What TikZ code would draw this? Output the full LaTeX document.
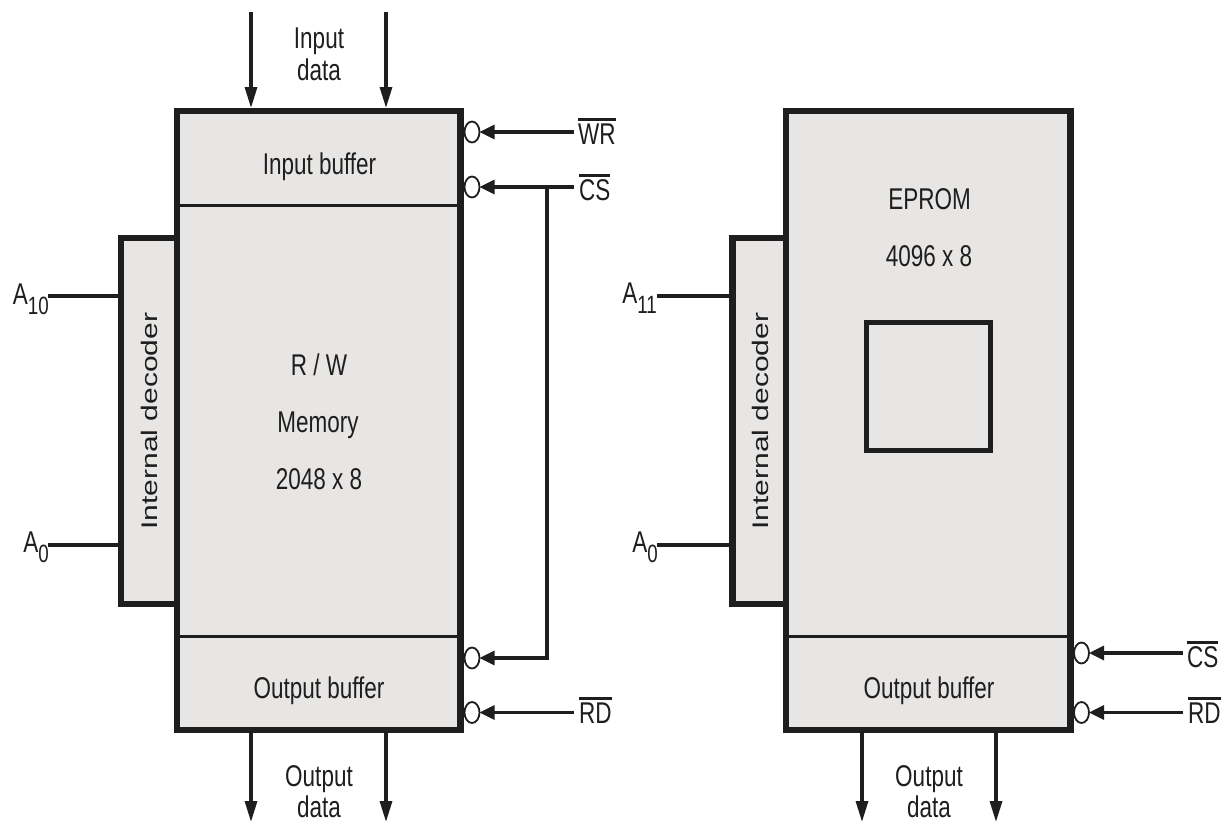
\documentclass[tikz,border=0pt]{standalone}
\usepackage{graphicx}
\usepackage{fontspec}
\setmainfont{Liberation Sans}[FakeStretch=0.75]
\newfontfamily\decfont{Liberation Sans}
\usetikzlibrary{arrows.meta,shapes.geometric}
\definecolor{ink}{HTML}{1E1E1E}
\definecolor{boxgray}{HTML}{E8E6E5}
\newcommand\ovl[1]{\leavevmode\vbox{\hrule height 3pt\kern2pt\hbox{#1}}}
\newcommand\sbs[1]{\raisebox{-10pt}{\fontsize{25}{25}\selectfont #1}}
\newcommand\dectext{\scalebox{0.75}[1]{\rotatebox{90}{\decfont\fontsize{30}{30}\selectfont Internal decoder}}}
\tikzset{
  block/.style={draw=ink, line width=6.5pt, fill=boxgray, inner sep=0pt, outer sep=0pt},
  divider/.style={draw=ink, line width=3pt},
  sig/.style={draw=ink, line width=3.2pt},
  htip/.style={-{Triangle[length=15pt,width=14pt]}},
  vtip/.style={-{Triangle[length=21pt,width=12pt]}},
  bubble/.style={ellipse, draw=ink, fill=white, line width=1.8pt, minimum width=15pt, minimum height=21pt, inner sep=0pt, outer sep=0pt},
  lbl/.style={font=\fontsize{30}{34}\selectfont, text=ink, inner sep=0pt},
}
\begin{document}
\begin{tikzpicture}[x=1pt,y=-1pt]
\useasboundingbox (0,0) rectangle (1224,823);
% ---------------- left: R/W memory ----------------
\node[block, minimum width=56pt, minimum height=366pt] (dec1) at (149,421) {};
\node[block, minimum width=283.5pt, minimum height=619pt] (ram) at (318.75,420.5) {};
\draw[divider] (177,205) -- (460.5,205);
\draw[divider] (177,636) -- (460.5,636);
\node[lbl, text=ink] (dec1t) at (149.5,421) {\dectext};
\node[lbl, anchor=base] (ib) at (319.5,174) {Input buffer};
\node[lbl, anchor=base] (rw) at (319,375) {R / W};
\node[lbl, anchor=base] (mem) at (318,432) {Memory};
\node[lbl, anchor=base] (sz1) at (319,489) {2048 x 8};
\node[lbl, anchor=base] (ob1) at (319,698) {Output buffer};
% input data
\coordinate (in1) at (251,12);
\coordinate (in2) at (386,12);
\draw[sig,vtip,shorten >=3pt] (in1) -- (in1 |- ram.north);
\draw[sig,vtip,shorten >=3pt] (in2) -- (in2 |- ram.north);
\node[lbl, anchor=base] (indata1) at (319,48) {Input};
\node[lbl, anchor=base] (indata2) at (319,80) {data};
% output data
\coordinate (out1) at (251,822);
\coordinate (out2) at (386,822);
\draw[sig,vtip] (out1 |- ram.south) -- (out1);
\draw[sig,vtip] (out2 |- ram.south) -- (out2);
\node[lbl, anchor=base] (outdata1) at (319,786) {Output};
\node[lbl, anchor=base] (outdata2) at (319,817) {data};
% address lines
\coordinate (a10) at (48,296);
\coordinate (a0) at (48,545);
\draw[sig] (a10) -- (a10 -| dec1.west);
\draw[sig] (a0) -- (a0 -| dec1.west);
\node[lbl, anchor=base east] (a10t) at (49,304) {A\sbs{10}};
\node[lbl, anchor=base east] (a0t) at (49,552) {A\sbs{0}};
% control signals
\node[bubble] (wrb) at (472,132) {};
\node[bubble] (csb) at (472,187) {};
\node[bubble] (csb2) at (472,658) {};
\node[bubble] (rdb) at (472,712.5) {};
\coordinate (wrin) at (574,132);
\coordinate (csin) at (574,187);
\coordinate (csj) at (547,187);
\coordinate (rdin) at (574,712.5);
\draw[sig,htip] (wrin) -- (wrb);
\draw[sig,htip] (csin) -- (csb);
\draw[sig,htip] (csj) |- (csb2);
\draw[sig,htip] (rdin) -- (rdb);
\node[lbl, anchor=base west] (wrt) at (578,144) {\ovl{WR}};
\node[lbl, anchor=base west] (cst) at (579,200) {\ovl{CS}};
\node[lbl, anchor=base west] (rdt) at (579,723) {\ovl{RD}};
% ---------------- right: EPROM ----------------
\node[block, minimum width=53.5pt, minimum height=366pt] (dec2) at (759.25,421) {};
\node[block, minimum width=284.5pt, minimum height=619pt] (eprom) at (928.25,420.5) {};
\draw[divider] (786,636) -- (1070.5,636);
\node[lbl] (dec2t) at (760,421) {\dectext};
\node[lbl, anchor=base] (ep) at (929.5,209) {EPROM};
\node[lbl, anchor=base] (sz2) at (929,266) {4096 x 8};
\node[draw=ink, line width=5pt, minimum width=124pt, minimum height=128pt, inner sep=0pt] (chip) at (928,386) {};
\node[lbl, anchor=base] (ob2) at (929,698) {Output buffer};
\coordinate (out3) at (862,822);
\coordinate (out4) at (996,822);
\draw[sig,vtip] (out3 |- eprom.south) -- (out3);
\draw[sig,vtip] (out4 |- eprom.south) -- (out4);
\node[lbl, anchor=base] (outdata3) at (929,786) {Output};
\node[lbl, anchor=base] (outdata4) at (929,817) {data};
\coordinate (a11) at (657,296);
\coordinate (a0b) at (657,545);
\draw[sig] (a11) -- (a11 -| dec2.west);
\draw[sig] (a0b) -- (a0b -| dec2.west);
\node[lbl, anchor=base east] (a11t) at (657,303) {A\sbs{11}};
\node[lbl, anchor=base east] (a0bt) at (658,552) {A\sbs{0}};
\node[bubble] (csb3) at (1081.5,653) {};
\node[bubble] (rdb2) at (1081.5,712.5) {};
\coordinate (csin2) at (1183,653);
\coordinate (rdin2) at (1183,712.5);
\draw[sig,htip] (csin2) -- (csb3);
\draw[sig,htip] (rdin2) -- (rdb2);
\node[lbl, anchor=base west] (cst2) at (1187,667) {\ovl{CS}};
\node[lbl, anchor=base west] (rdt2) at (1188,723) {\ovl{RD}};
\end{tikzpicture}
\end{document}
